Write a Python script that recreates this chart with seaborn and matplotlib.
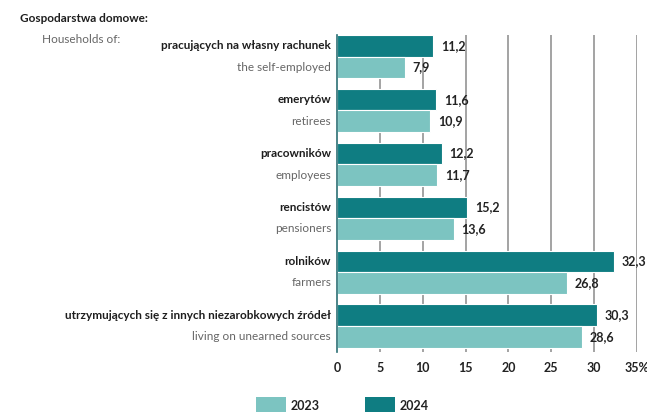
import matplotlib
matplotlib.use("Agg")
import matplotlib.pyplot as plt
import matplotlib.patches as mpatches
import matplotlib.transforms as mtransforms
import seaborn as sns
import pandas as pd

# data
labels_pl = [
    "pracujących na własny rachunek",
    "emerytów",
    "pracowników",
    "rencistów",
    "rolników",
    "utrzymujących się z innych niezarobkowych źródeł",
]
labels_en = [
    "the self-employed",
    "retirees",
    "employees",
    "pensioners",
    "farmers",
    "living on unearned sources",
]
values_2024 = [11.2, 11.6, 12.2, 15.2, 32.3, 30.3]
values_2023 = [7.9, 10.9, 11.7, 13.6, 26.8, 28.6]
years = ["2024", "2023"]
xticks = [0, 5, 10, 15, 20, 25, 30, 35]
xtick_labels = ["0", "5", "10", "15", "20", "25", "30", "35%"]

dark = "#0f7d82"
light = "#7cc4c1"
palette = {"2024": dark, "2023": light}

df = pd.DataFrame({
    "group": labels_pl * 2,
    "year": ["2024"] * len(labels_pl) + ["2023"] * len(labels_pl),
    "value": values_2024 + values_2023,
})

sns.set_style("white")
plt.rcParams["font.family"] = ["Lato", "DejaVu Sans"]
fs = 8.5

fig = plt.figure(figsize=(6.47, 4.12), dpi=100)
ax = fig.add_axes([0.521, 0.146, 0.4635, 0.769])

# grid behind bars
for t in xticks[1:]:
    ax.axvline(t, color="#8a8a8a", lw=1.1, zorder=0)

sns.barplot(data=df, y="group", x="value", hue="year", hue_order=years,
            order=labels_pl, palette=palette, saturation=1, orient="h",
            width=0.8, edgecolor="white", linewidth=0.8, legend=False,
            ax=ax, zorder=2)

ax.set_xlim(0, 35)
ax.set_ylim(5.48, -0.40)
ax.set_xticks(xticks)
ax.set_xticklabels(xtick_labels, fontsize=fs + 0.5, fontweight="bold",
                   color="#222222")
ax.tick_params(axis="x", length=0, pad=7)
ax.set_yticks([])
ax.set_xlabel("")
ax.set_ylabel("")
for s in ["top", "right", "bottom"]:
    ax.spines[s].set_visible(False)
ax.spines["left"].set_color("#2c6f74")
ax.spines["left"].set_linewidth(1.2)

# value labels
for i, (v24, v23) in enumerate(zip(values_2024, values_2023)):
    ax.text(v24 + 0.9, i - 0.2, f"{v24:.1f}".replace(".", ","), va="center",
            ha="left", fontsize=fs + 0.5, fontweight="bold", color="#222222")
    ax.text(v23 + 0.9, i + 0.2, f"{v23:.1f}".replace(".", ","), va="center",
            ha="left", fontsize=fs + 0.5, fontweight="bold", color="#222222")

# category labels left of the axis
trans = mtransforms.blended_transform_factory(ax.transAxes, ax.transData)
for i, (pl, en) in enumerate(zip(labels_pl, labels_en)):
    ax.text(-0.02, i - 0.2, pl, transform=trans, ha="right", va="center",
            fontsize=fs, fontweight="bold", color="#1e1e1e")
    ax.text(-0.02, i + 0.2, en, transform=trans, ha="right", va="center",
            fontsize=fs, color="#666666")

fig.text(0.031, 0.955, "Gospodarstwa domowe:", fontsize=fs, fontweight="bold",
         color="#1e1e1e", ha="left", va="center")
fig.text(0.186, 0.903, "Households of:", fontsize=fs, color="#666666",
         ha="right", va="center")

# legend at the bottom
legend_items = [("2023", light, 256), ("2024", dark, 365)]
for name, col, x0 in legend_items:
    fig.patches.append(mpatches.Rectangle((x0 / 647, -0.01), 30 / 647, 0.047,
                                          transform=fig.transFigure,
                                          facecolor=col, edgecolor="none"))
    fig.text((x0 + 35) / 647, 0.015, name, fontsize=fs + 0.5,
             fontweight="bold", color="#222222", ha="left", va="center")

fig.savefig("out.png", dpi=100)
